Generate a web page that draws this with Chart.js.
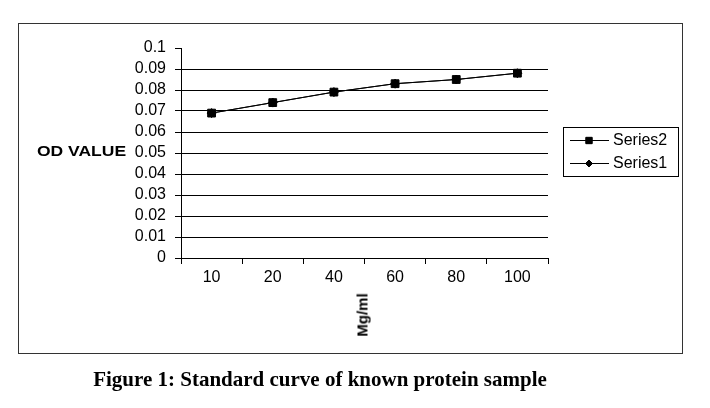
<!DOCTYPE html>
<html>
<head>
<meta charset="utf-8">
<script src="https://cdn.jsdelivr.net/npm/chart.js@4"></script>
<style>
  body { margin: 0; background: #fff; }
  #wrap { position: relative; width: 710px; height: 408px; }
  #cadre {
    position: absolute; left: 18px; top: 23px; width: 663px; height: 329px;
    border: 1px solid #333;
  }
  canvas { position: absolute; left: 0; top: 0; }
  .txt { position: absolute; color: #000; white-space: nowrap; }
  #titreY { left: 37px; top: 143px; font: bold 14px "Liberation Sans", Arial, sans-serif; transform: scaleX(1.25); transform-origin: left center; }
  #titreX { left: 362px; top: 315px; font: bold 15px "Liberation Sans", Arial, sans-serif; transform: translate(-50%, -50%) rotate(-90deg); }
  #legende { left: 0; width: 640px; top: 367px; text-align: center; font: bold 21px "Liberation Serif", "Times New Roman", serif; }
</style>
</head>
<body>
<div id="wrap">
  <div id="cadre"></div>
  <canvas id="myChart" width="710" height="408"></canvas>
  <div class="txt" id="titreY">OD VALUE</div>
  <div class="txt" id="titreX">Mg/ml</div>
  <div class="txt" id="legende">Figure 1: Standard curve of known protein sample</div>
</div>
<script>
//! Les données.

const categories = ['10', '20', '40', '60', '80', '100'];
const series2 = [0.069, 0.074, 0.079, 0.083, 0.085, 0.088];
const series1 = [0.069, 0.074, 0.079, 0.083, 0.085, 0.088];
const yMin = 0;
const yMax = 0.1;
const yPas = 0.01;

//! --------------------------------------------------------------

//! Légende encadrée à la mode Excel.

const legendeExcel = {
  id: 'legendeExcel',
  afterDraw(chart) {
    const ctx = chart.ctx;
    ctx.save();
    ctx.strokeStyle = '#000';
    ctx.lineWidth = 1;
    ctx.strokeRect(563.5, 127.5, 115, 49);
    ctx.font = '16px "Liberation Sans", Arial, sans-serif';
    ctx.textBaseline = 'middle';
    chart.data.datasets.forEach((ds, i) => {
      const y = 140 + i * 23;
      ctx.beginPath();
      ctx.moveTo(570, y + 0.5);
      ctx.lineTo(609, y + 0.5);
      ctx.stroke();
      ctx.fillStyle = '#000';
      Chart.helpers.drawPoint(ctx, {
        pointStyle: ds.pointStyle,
        radius: ds.pointStyle === 'rect' ? 4.5 : 3.5,
        rotation: 0,
        borderWidth: 1,
      }, 589, y + 0.5);
      ctx.fill();
      ctx.fillText(ds.label, 613, y + 1);
    });
    ctx.restore();
  },
};

//! --------------------------------------------------------------

//! Le graphique.

const data = {
  labels: categories,
  datasets: [
    {
      label: 'Series2',
      data: series2,
      borderColor: '#000',
      backgroundColor: '#000',
      borderWidth: 1,
      pointStyle: 'rect',
      pointRadius: 5.5,
      tension: 0,
    },
    {
      label: 'Series1',
      data: series1,
      borderColor: '#000',
      backgroundColor: '#000',
      borderWidth: 1,
      pointStyle: 'rectRot',
      pointRadius: 4.5,
      tension: 0,
    },
  ],
};

const options = {
  responsive: false,
  animation: false,
  events: [],
  layout: { padding: { left: 0, right: 162, top: 48, bottom: 100 } },
  plugins: { legend: { display: false }, tooltip: { enabled: false } },
  scales: {
    x: {
      type: 'category',
      offset: true,
      grid: { offset: true, drawOnChartArea: false, tickLength: 6, color: '#000', tickColor: '#000' },
      border: { display: true, color: '#000', width: 1 },
      ticks: { color: '#000', padding: 4, autoSkip: false, font: { family: '"Liberation Sans", Arial, sans-serif', size: 16 } },
      afterFit: (scale) => { scale.height = 50; },
    },
    y: {
      min: yMin,
      max: yMax,
      grid: {
        tickLength: 6,
        color: (c) => (c.tick && Math.abs(c.tick.value - yMax) < 1e-9 ? 'rgba(0,0,0,0)' : '#000'),
        tickColor: '#000',
      },
      border: { display: true, color: '#000', width: 1 },
      ticks: {
        stepSize: yPas,
        autoSkip: false,
        color: '#000',
        padding: 9,
        font: { family: '"Liberation Sans", Arial, sans-serif', size: 16 },
        callback: (v) => String(Number(v.toFixed(2))),
      },
      afterFit: (scale) => { scale.width = 181; },
    },
  },
};

const myChart = new Chart(document.getElementById('myChart'), {
  type: 'line',
  data,
  options,
  plugins: [legendeExcel],
});

//! --------------------------------------------------------------
</script>
</body>
</html>
